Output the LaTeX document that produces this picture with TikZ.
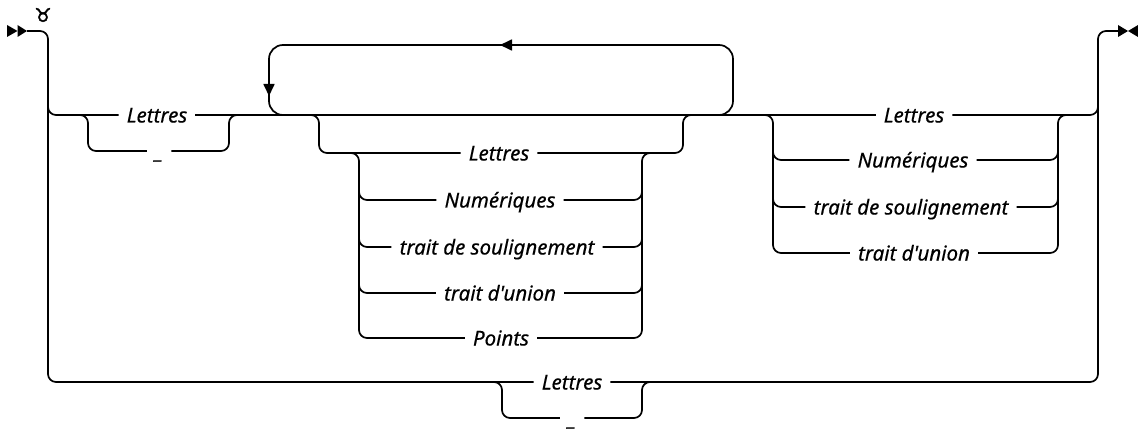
\documentclass[tikz,border=0pt]{standalone}
\usepackage{fontspec}
\setmainfont{Noto Sans}
\newfontfamily\lblfont[FakeBold=0.5]{Noto Sans}
\newfontfamily\symfont[FakeBold=2]{DejaVu Sans}
\usetikzlibrary{arrows.meta}

\tikzset{
  rail/.style={line width=1.7pt, rounded corners=8pt},
  loopline/.style={line width=1.7pt, rounded corners=14pt},
  looptip/.style={-{Triangle[length=12pt,width=11pt]}},
  lbl/.style={font=\lblfont\itshape\fontsize{20.5}{24}\selectfont, inner xsep=8pt, inner ysep=0pt, text height=15pt, text depth=0pt}
}

\begin{document}
\begin{tikzpicture}[x=1pt,y=1pt,yscale=-1,xscale=1]
\useasboundingbox (0,0) rectangle (1138,433);
\coordinate (start) at (27,31);
\coordinate (finish) at (1118,31);
\fill (7,25) -- (17.5,31) -- (7,37) -- cycle ;
\fill (17.5,25) -- (27,31) -- (17.5,37) -- cycle ;
\fill (1118,25) -- (1128,31) -- (1118,37) -- cycle ;
\fill (1138,25) -- (1128,31) -- (1138,37) -- cycle ;
\draw (43,15) node [inner sep=0pt,font=\symfont\fontsize{19}{19}\selectfont] (mark) {♉};

\draw (157,115) node [lbl] (lettresA) {Lettres};
\draw (159,151) node [lbl] (underA) {\_};
\draw (499,153) node [lbl] (lettresB) {Lettres};
\draw (500,200) node [lbl] (numB) {Numériques};
\draw (497,247) node [lbl] (soulB) {trait de soulignement};
\draw (500,293) node [lbl] (unionB) {trait d'union};
\draw (501,338) node [lbl] (pointsB) {Points};
\draw (914,115) node [lbl] (lettresC) {Lettres};
\draw (913,160) node [lbl] (numC) {Numériques};
\draw (911,207) node [lbl] (soulC) {trait de soulignement};
\draw (914,253) node [lbl] (unionC) {trait d'union};
\draw (572,382) node [lbl] (lettresD) {Lettres};
\draw (572,418) node [lbl] (underD) {\_};

% outer spines
\draw [rail] (start) -- (48,31) -- (48,382) -- (lettresD.west) ;
\draw [rail] (48,100) -- (48,115) -- (lettresA.west) ;
\draw [rail] (lettresD.east) -- (1098,382) -- (1098,31) -- (finish) ;
\draw [rail] (lettresC.east) -- (1098,115) -- (1098,100) ;

% main line
\draw [rail] (lettresA.east) -- (lettresC.west) ;
\draw [rail] (78,115) -- (88,115) -- (88,151) -- (underA.west) ;
\draw [rail] (underA.east) -- (229,151) -- (229,115) -- (238,115) ;

% repeat loop
\draw [loopline,looptip] (715,115) -- (733,115) -- (733,45) -- (500,45) ;
\draw [loopline,looptip] (510,45) -- (269,45) -- (269,96) ;
\draw [loopline] (269,90) -- (269,115) -- (290,115) ;

% inner group
\draw [rail] (300,115) -- (319,115) -- (319,153) -- (lettresB.west) ;
\draw [rail] (lettresB.east) -- (683,153) -- (683,115) -- (700,115) ;
\draw [rail] (350,153) -- (359,153) -- (359,338) -- (pointsB.west) ;
\draw [rail] (359,185) -- (359,200) -- (numB.west) ;
\draw [rail] (359,232) -- (359,247) -- (soulB.west) ;
\draw [rail] (359,278) -- (359,293) -- (unionB.west) ;
\draw [rail] (pointsB.east) -- (642,338) -- (642,153) -- (652,153) ;
\draw [rail] (numB.east) -- (642,200) -- (642,185) ;
\draw [rail] (soulB.east) -- (642,247) -- (642,232) ;
\draw [rail] (unionB.east) -- (642,293) -- (642,278) ;

% right group
\draw [rail] (765,115) -- (773,115) -- (773,253) -- (unionC.west) ;
\draw [rail] (773,145) -- (773,160) -- (numC.west) ;
\draw [rail] (773,192) -- (773,207) -- (soulC.west) ;
\draw [rail] (unionC.east) -- (1058,253) -- (1058,115) -- (1066,115) ;
\draw [rail] (numC.east) -- (1058,160) -- (1058,145) ;
\draw [rail] (soulC.east) -- (1058,207) -- (1058,192) ;

% bottom choice
\draw [rail] (492,382) -- (502,382) -- (502,418) -- (underD.west) ;
\draw [rail] (underD.east) -- (642,418) -- (642,382) -- (652,382) ;
\end{tikzpicture}
\end{document}
